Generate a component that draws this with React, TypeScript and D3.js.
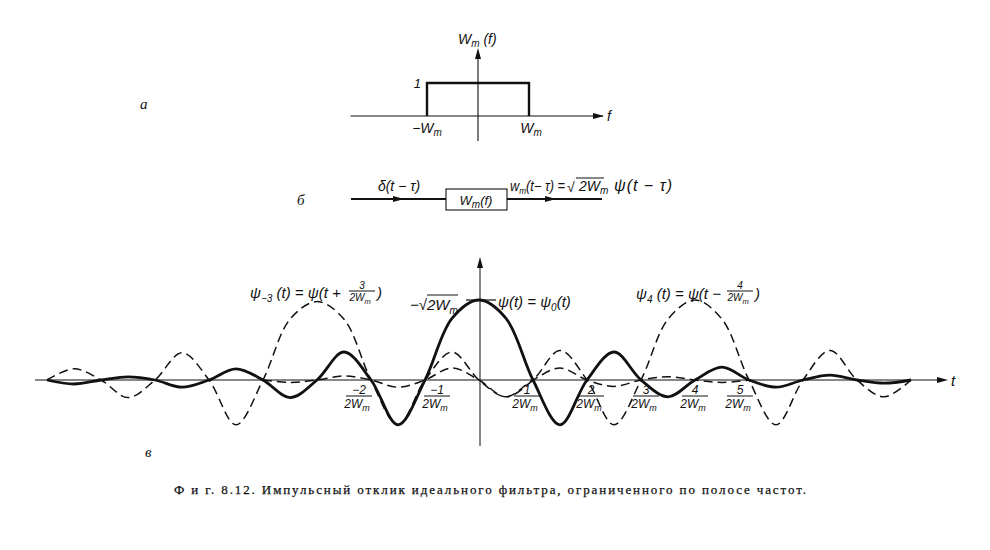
import React from 'react';
import * as d3 from 'd3';

// ---------- data ----------
// spectrum W_m(f): corner points of the ideal band-pass (f in units of W_m)
const spectrumF: number[] = [-1, -1, 1, 1];
const spectrumV: number[] = [0, 1, 1, 0];

// psi(t) = psi_0(t), t in units of 1/(2W_m), value relative to sqrt(2W_m)
const psi0T: number[] = [-8, -7.5, -7, -6.5, -6, -5.5, -5, -4.5, -4, -3.5, -3, -2.5, -2, -1.5, -1, -0.5, 0, 0.5, 1, 1.5, 2, 2.5, 3, 3.5, 4, 4.5, 5, 5.5, 6, 6.5, 7, 7.5, 8];
const psi0V: number[] = [0, -0.05, 0, 0.04, 0, -0.09, 0, 0.14, 0, -0.22, 0, 0.35, 0, -0.56, 0, 0.77, 1, 0.77, 0, -0.56, 0, 0.35, 0, -0.21, 0, 0.16, 0, -0.09, 0, 0.06, 0, -0.04, 0];

// psi_{-3}(t)
const psiM3T: number[] = [-8, -7.5, -7, -6.5, -6, -5.5, -5, -4.5, -4, -3.5, -3, -2.5, -2, -1.5, -1, -0.5, 0, 0.5, 1, 1.5, 2, 2.5, 3, 3.5, 4, 4.5, 5];
const psiM3V: number[] = [0, 0.14, 0, -0.22, 0, 0.34, 0, -0.56, 0, 0.76, 0.98, 0.76, 0, -0.56, 0, 0.35, 0, -0.21, 0, 0.15, 0, -0.08, 0, 0.04, 0, -0.03, 0];

// psi_4(t)
const psi4T: number[] = [-4, -3.5, -3, -2.5, -2, -1.5, -1, -0.5, 0, 0.5, 1, 1.5, 2, 2.5, 3, 3.5, 4, 4.5, 5, 5.5, 6, 6.5, 7, 7.5, 8];
const psi4V: number[] = [0, -0.03, 0, 0.05, 0, -0.09, 0, 0.15, 0, -0.21, 0, 0.37, 0, -0.56, 0, 0.76, 1, 0.76, 0, -0.56, 0, 0.37, 0, -0.21, 0];

// tick labels k/(2W_m)
const tickK: number[] = [-2, -1, 1, 2, 3, 4, 5];
const tickNum: string[] = ['−2', '−1', '1', '2', '3', '4', '5'];

const caption = 'Ф и г.  8.12. Импульсный отклик идеального фильтра, ограниченного по полосе частот.';

// ---------- helpers ----------
const MATH = '"Liberation Sans", "DejaVu Sans", sans-serif';
const SERIF = '"Liberation Serif", "DejaVu Serif", serif';

const zip = (a: number[], b: number[]) => a.map((t, i) => [t, b[i]] as [number, number]);

function arrowRight(x: number, y: number) {
  return `${x},${y} ${x - 11},${y - 3} ${x - 11},${y + 3}`;
}
function arrowUp(x: number, y: number) {
  return `${x},${y} ${x - 3},${y + 11} ${x + 3},${y + 11}`;
}

function Frac({ x, y, num, size = 12 }: { x: number; y: number; num: string; size?: number }) {
  // x: centre, y: fraction bar
  return (
    <g fontFamily={MATH} fontStyle="italic" fill="#111" textAnchor="middle">
      <text x={x} y={y - 2} fontSize={size}>{num}</text>
      <line x1={x - 13} x2={x + 13} y1={y} y2={y} stroke="#111" strokeWidth={1} />
      <text x={x - 2} y={y + size} fontSize={size}>
        2W<tspan fontSize={size * 0.75} dy={3}>m</tspan>
      </text>
    </g>
  );
}

export default function App() {
  // bottom plot scales
  const xT = d3.scaleLinear().domain([-8, 8]).range([47, 911]);
  const yV = d3.scaleLinear().domain([0, 1]).range([380, 300]);
  const line = d3
    .line<[number, number]>()
    .x((d) => xT(d[0]))
    .y((d) => yV(d[1]))
    .curve(d3.curveCatmullRom.alpha(0.5));

  // top spectrum scales
  const xF = d3.scaleLinear().domain([-1, 1]).range([427, 529]);
  const yF = d3.scaleLinear().domain([0, 1]).range([116, 83]);
  const rectLine = d3
    .line<[number, number]>()
    .x((d) => xF(d[0]))
    .y((d) => yF(d[1]));

  const tickOffset: Record<number, number> = { [-2]: -12, [-1]: 12, 1: -6, 2: 4, 3: 5, 4: 0, 5: -9 };

  return (
    <svg
      width={990}
      height={550}
      style={{ position: 'absolute', left: 0, top: 0, background: '#fff' }}
      fontFamily={MATH}
    >
      <rect x={0} y={0} width={990} height={550} fill="#fff" />

      {/* ---------- (а) spectrum ---------- */}
      <text x={140} y={109} fontSize={15} fontStyle="italic" fontFamily={SERIF} fill="#111">а</text>
      <line x1={xF(-2.5)} x2={603} y1={yF(0)} y2={yF(0)} stroke="#111" strokeWidth={1.1} />
      <polygon points={arrowRight(604, yF(0))} fill="#111" />
      <text x={607} y={121} fontSize={14} fontStyle="italic" fill="#111">f</text>
      <line x1={478} x2={478} y1={141} y2={54} stroke="#111" strokeWidth={1.1} />
      <polygon points={arrowUp(478, 48)} fill="#111" />
      <text x={458} y={44} fontSize={14} fontStyle="italic" fill="#111">
        W<tspan fontSize={10} dy={3}>m</tspan><tspan dy={-3}> (f)</tspan>
      </text>
      <path d={rectLine(zip(spectrumF, spectrumV)) || ''} fill="none" stroke="#111" strokeWidth={2.4} />
      <text x={421} y={88} fontSize={13} fontStyle="italic" fill="#111" textAnchor="end">1</text>
      <text x={427} y={133} fontSize={14} fontStyle="italic" fill="#111" textAnchor="middle">
        −W<tspan fontSize={10} dy={3}>m</tspan>
      </text>
      <text x={531} y={133} fontSize={14} fontStyle="italic" fill="#111" textAnchor="middle">
        W<tspan fontSize={10} dy={3}>m</tspan>
      </text>

      {/* ---------- (б) block diagram ---------- */}
      <text x={297} y={205} fontSize={15} fontStyle="italic" fontFamily={SERIF} fill="#111">б</text>
      <line x1={351} x2={446} y1={199} y2={199} stroke="#111" strokeWidth={1.8} />
      <polygon points={arrowRight(404, 199)} fill="#111" />
      <rect x={446} y={189} width={61} height={21} fill="#fff" stroke="#111" strokeWidth={1.1} />
      <text x={476} y={205} fontSize={13} fontStyle="italic" fill="#111" textAnchor="middle">
        W<tspan fontSize={10} dy={3}>m</tspan><tspan dy={-3}>(f)</tspan>
      </text>
      <line x1={507} x2={602} y1={199} y2={199} stroke="#111" strokeWidth={1.8} />
      <polygon points={arrowRight(556, 199)} fill="#111" />
      <text x={399} y={191} fontSize={14} fontStyle="italic" fill="#111" textAnchor="middle">δ(t − τ)</text>
      <text x={510} y={191} fontSize={14} fontStyle="italic" fill="#111" textLength={55} lengthAdjust="spacingAndGlyphs">
        w<tspan fontSize={9} dy={3}>m</tspan><tspan dy={-3}>(t− τ) =</tspan>
      </text>
      <text x={567} y={192} fontSize={14} fontStyle="italic" fill="#111">√</text>
      <line x1={576} x2={604} y1={178} y2={178} stroke="#111" strokeWidth={1} />
      <text x={579} y={191} fontSize={14} fontStyle="italic" fill="#111">
        2W<tspan fontSize={10} dy={3}>m</tspan>
      </text>
      <text x={614} y={191} fontSize={16} fontStyle="italic" fill="#111" letterSpacing={1}>
        ψ(t − τ)
      </text>

      {/* ---------- (в) time responses ---------- */}
      <text x={145} y={457} fontSize={15} fontStyle="italic" fontFamily={SERIF} fill="#111">в</text>
      <line x1={35} x2={942} y1={380} y2={380} stroke="#111" strokeWidth={1} />
      <polygon points={arrowRight(948, 380)} fill="#111" />
      <text x={951} y={386} fontSize={15} fontStyle="italic" fill="#111">t</text>
      <line x1={480} x2={480} y1={446} y2={266} stroke="#111" strokeWidth={1} />
      <polygon points={arrowUp(480, 257)} fill="#111" />

      <path d={line(zip(psiM3T, psiM3V)) || ''} fill="none" stroke="#111" strokeWidth={1.5} strokeDasharray="9 5" />
      <path d={line(zip(psi4T, psi4V)) || ''} fill="none" stroke="#111" strokeWidth={1.5} strokeDasharray="9 5" />
      <path d={line(zip(psi0T, psi0V)) || ''} fill="none" stroke="#111" strokeWidth={2.8} />

      {tickK.map((k, i) => (
        <Frac key={k} x={xT(k) + tickOffset[k]} y={396} num={tickNum[i]} />
      ))}

      {/* curve labels */}
      <text x={250} y={298} fontSize={15} fontStyle="italic" fill="#111">
        ψ<tspan fontSize={10} dy={4}>−3</tspan><tspan dy={-4}> (t) = ψ(t + </tspan>
      </text>
      <Frac x={362} y={291} num="3" size={10} />
      <text x={377} y={298} fontSize={15} fontStyle="italic" fill="#111">)</text>

      <text x={636} y={299} fontSize={15} fontStyle="italic" fill="#111">
        ψ<tspan fontSize={10} dy={4}>4</tspan><tspan dy={-4}> (t) = ψ(t − </tspan>
      </text>
      <Frac x={740} y={291} num="4" size={10} />
      <text x={755} y={299} fontSize={15} fontStyle="italic" fill="#111">)</text>

      <text x={498} y={307} fontSize={15} fontStyle="italic" fill="#111">
        ψ(t) = ψ<tspan fontSize={10} dy={4}>0</tspan><tspan dy={-4}>(t)</tspan>
      </text>

      <text x={410} y={310} fontSize={15} fontStyle="italic" fill="#111">
        −√2W<tspan fontSize={10} dy={4}>m</tspan>
      </text>
      <line x1={427} x2={458} y1={295} y2={295} stroke="#111" strokeWidth={1} />
      <line x1={466} x2={496} y1={300} y2={300} stroke="#111" strokeWidth={1.2} />

      {/* caption */}
      <text x={174} y={494} fontSize={13} fontFamily={SERIF} fill="#111" stroke="#111" strokeWidth={0.25} textLength={632} lengthAdjust="spacing">
        {caption}
      </text>
    </svg>
  );
}
